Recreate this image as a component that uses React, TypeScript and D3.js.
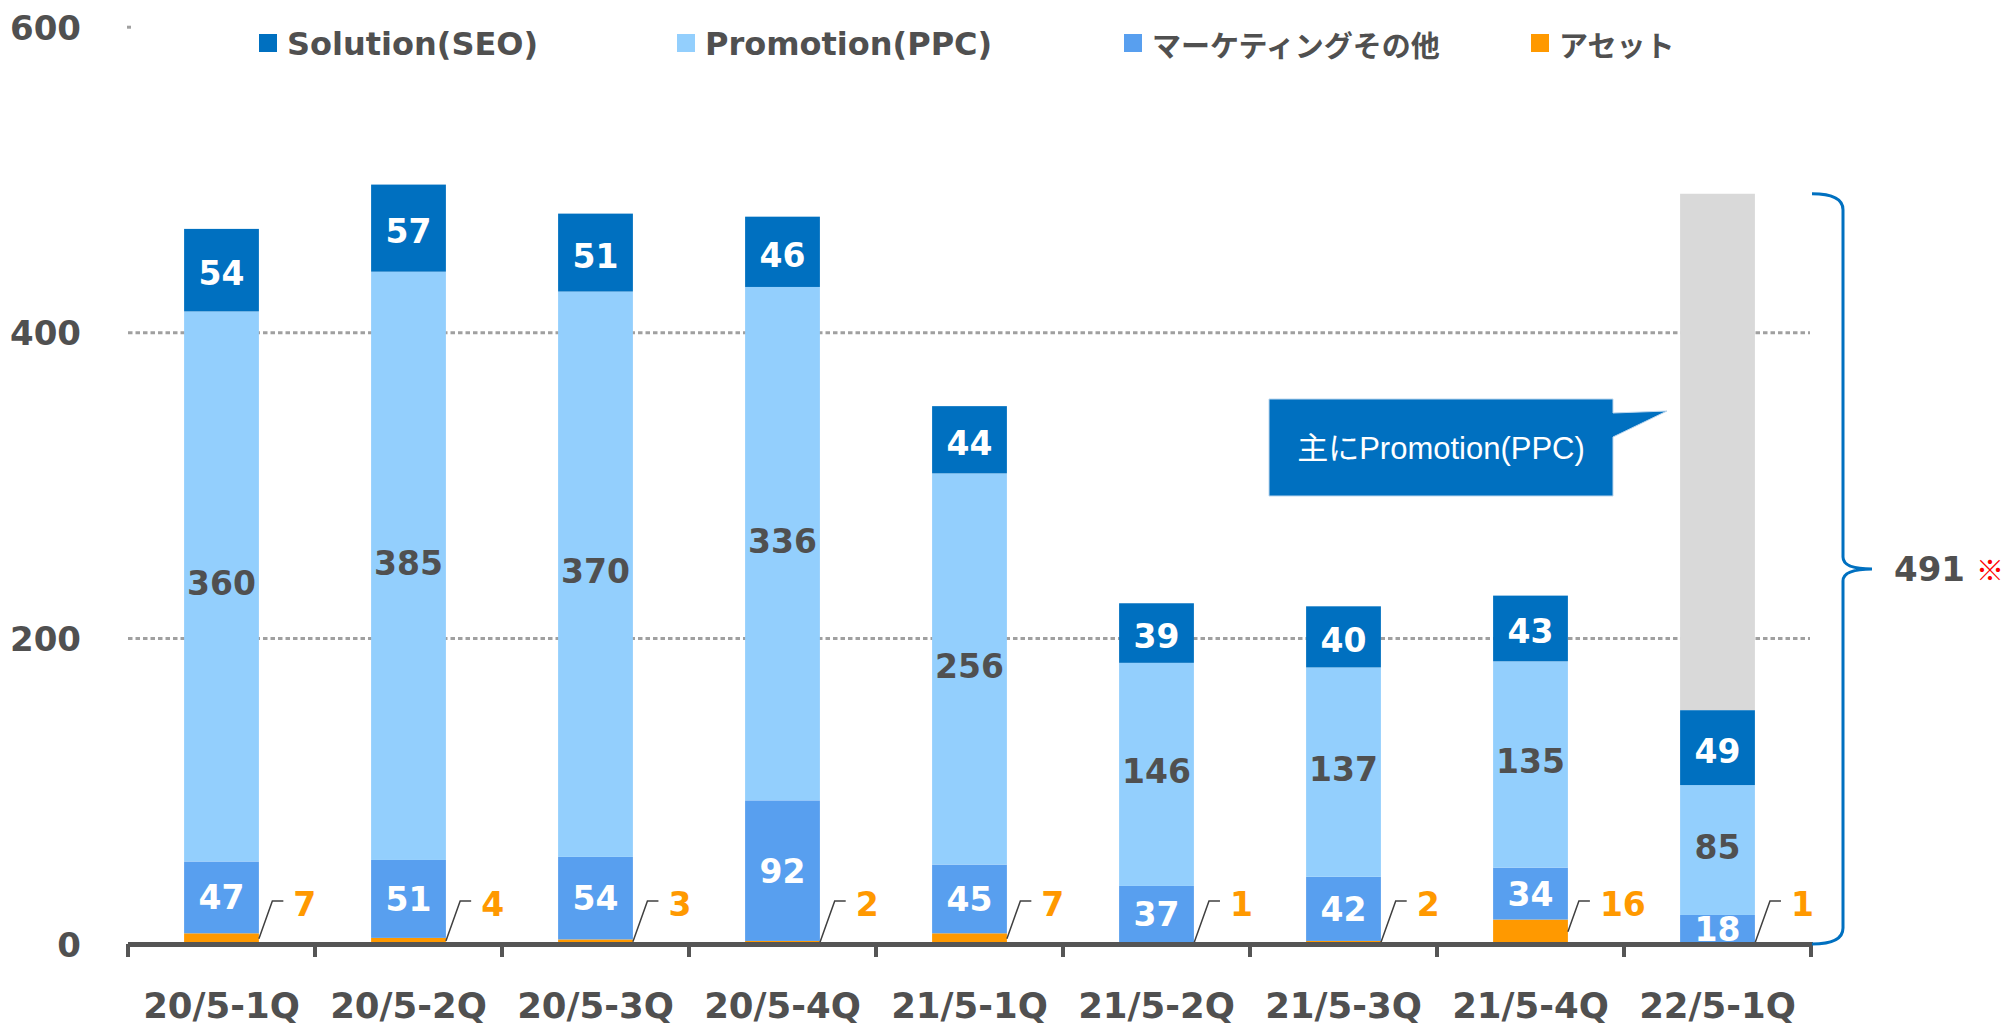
import React from 'react';
import * as d3 from 'd3';

const categories = ['20/5-1Q', '20/5-2Q', '20/5-3Q', '20/5-4Q', '21/5-1Q', '21/5-2Q', '21/5-3Q', '21/5-4Q', '22/5-1Q'];
const solution = [54, 57, 51, 46, 44, 39, 40, 43, 49];
const promotion = [360, 385, 370, 336, 256, 146, 137, 135, 85];
const marketing = [47, 51, 54, 92, 45, 37, 42, 34, 18];
const asset = [7, 4, 3, 2, 7, 1, 2, 16, 1];
const seriesNames = ['Solution(SEO)', 'Promotion(PPC)', 'マーケティングその他', 'アセット'];
const yTicks = [0, 200, 400, 600];
const forecastCategory = '22/5-1Q';
const forecastTotal = 491;
const forecastNote = '※';
const calloutText = '主にPromotion(PPC)';

const W = 2003;
const H = 1026;
const C_SEO = '#0070C0';
const C_PPC = '#93CFFD';
const C_MKT = '#589FEF';
const C_AST = '#FF9900';
const C_GRAY = '#D9D9D9';
const C_TEXT = '#505050';
const NUM_FONT = '"DejaVu Sans", Verdana, sans-serif';
const MIX_FONT = '"DejaVu Sans", "Noto Sans CJK JP", sans-serif';
const JP_FONT = '"Noto Sans CJK JP", sans-serif';

export default function App() {
  const x = d3.scaleBand<string>().domain(categories).range([128, 1811]).paddingInner(0.6).paddingOuter(0.3);
  const y = d3.scaleLinear().domain([0, 600]).range([944, 27.2]);
  const rows = categories.map((c, i) => ({ cat: c, asset: asset[i], marketing: marketing[i], promotion: promotion[i], solution: solution[i] }));
  const keys = ['asset', 'marketing', 'promotion', 'solution'];
  const stacked = d3.stack<any>().keys(keys)(rows);
  const colors: Record<string, string> = { asset: C_AST, marketing: C_MKT, promotion: C_PPC, solution: C_SEO };
  const bw = x.bandwidth();
  const step = x.step();
  const x0 = 128;

  const fIdx = categories.indexOf(forecastCategory);
  const fTop = solution[fIdx] + promotion[fIdx] + marketing[fIdx] + asset[fIdx];

  const legendColors = [C_SEO, C_PPC, C_MKT, C_AST];
  const legendX = [259, 677, 1124, 1531];
  const isJP = (s: string) => /[\u3040-\u30ff\u4e00-\u9fff]/.test(s);

  const braceTop = y(forecastTotal);
  const braceBot = y(0);
  const braceMid = (braceTop + braceBot) / 2;
  const bx0 = 1812;
  const bx1 = 1843;
  const bxt = 1872;
  const bracePath = `M${bx0},${braceTop} Q${bx1},${braceTop} ${bx1},${braceTop + 16} L${bx1},${braceMid - 12} Q${bx1},${braceMid} ${bxt},${braceMid} Q${bx1},${braceMid} ${bx1},${braceMid + 12} L${bx1},${braceBot - 16} Q${bx1},${braceBot} ${bx0},${braceBot}`;

  const assetLabelY = 904;
  const fs = 33;

  return (
    <svg width={W} height={H} style={{ position: 'absolute', left: 0, top: 0, display: 'block', background: '#fff' }}>
      {/* gridlines */}
      {yTicks.filter(t => t > 0 && t < 600).map(t => (
        <line key={t} x1={128} x2={1810} y1={y(t)} y2={y(t)} stroke="#A0A0A0" strokeWidth={3} strokeDasharray="4.5 3" />
      ))}
      <line x1={127} x2={131} y1={y(600)} y2={y(600)} stroke="#A0A0A0" strokeWidth={3} />
      {/* y labels */}
      {yTicks.map(t => (
        <text key={t} x={81} y={y(t) + 12.5} textAnchor="end" fontFamily={NUM_FONT} fontWeight="bold" fontSize={34} fill={C_TEXT}>{t}</text>
      ))}
      {/* forecast gray bar */}
      <rect x={x(forecastCategory)!} y={y(forecastTotal)} width={bw} height={y(fTop) - y(forecastTotal)} fill={C_GRAY} />
      {/* bars */}
      {stacked.map(s => (
        <g key={s.key}>
          {s.map((d, i) => (
            <rect key={i} x={x(categories[i])!} y={y(d[1])} width={bw} height={Math.max(0, y(d[0]) - y(d[1]))} fill={colors[s.key]} />
          ))}
        </g>
      ))}
      {/* in-bar labels */}
      {stacked.filter(s => s.key !== 'asset').map(s => (
        <g key={'l' + s.key}>
          {s.map((d, i) => (
            <text key={i} x={x(categories[i])! + bw / 2} y={y((d[0] + d[1]) / 2) + (s.key === 'solution' ? 15 : s.key === 'promotion' ? 9 : 12)} textAnchor="middle" fontFamily={NUM_FONT} fontWeight="bold" fontSize={fs} fill={s.key === 'promotion' ? C_TEXT : '#FFFFFF'}>
              {d[1] - d[0]}
            </text>
          ))}
        </g>
      ))}
      {/* asset labels with leader lines */}
      {stacked.filter(s => s.key === 'asset').map(s => (
        <g key="assetlabels">
          {s.map((d, i) => {
            const xr = x(categories[i])! + bw;
            const sy = y((d[0] + d[1]) / 2);
            const ky = assetLabelY - 3;
            const kx = xr + (sy - ky) / 2.8;
            return (
              <g key={i}>
                <path d={`M${xr},${sy} L${kx},${ky} L${kx + 11},${ky}`} fill="none" stroke="#404040" strokeWidth={1.5} />
                <text x={kx + 21} y={assetLabelY + 12} fontFamily={NUM_FONT} fontWeight="bold" fontSize={fs} fill={C_AST}>{d[1] - d[0]}</text>
              </g>
            );
          })}
        </g>
      ))}
      {/* x axis */}
      <line x1={128} x2={1813} y1={944.5} y2={944.5} stroke="#555555" strokeWidth={5} />
      {d3.range(categories.length + 1).map(i => (
        <line key={i} x1={x0 + i * step} x2={x0 + i * step} y1={944} y2={957} stroke="#555555" strokeWidth={4} />
      ))}
      {categories.map(c => (
        <text key={c} x={x(c)! + bw / 2} y={1018} textAnchor="middle" fontFamily={MIX_FONT} fontWeight="bold" fontSize={35.5} fill={C_TEXT}>{c}</text>
      ))}
      {/* legend */}
      {seriesNames.map((n, i) => (
        <g key={n}>
          <rect x={legendX[i]} y={34} width={18} height={18} fill={legendColors[i]} />
          <text x={legendX[i] + 28} y={44} dominantBaseline="central" fontFamily={isJP(n) ? JP_FONT : MIX_FONT} fontWeight="bold" fontSize={isJP(n) ? 29 : 32} fill={C_TEXT}>{n}</text>
        </g>
      ))}
      {/* callout */}
      <path d="M1269,399 L1613,399 L1613,413 L1667,411 L1613,437 L1613,496 L1269,496 Z" fill={C_SEO} stroke="#BDD7EE" strokeWidth={1} />
      <text x={1441} y={448} textAnchor="middle" dominantBaseline="central" fontFamily='"Liberation Sans", Arial, "Noto Sans CJK JP", sans-serif' fontSize={31} fill="#FFFFFF">{calloutText}</text>
      {/* brace */}
      <path d={bracePath} fill="none" stroke={C_SEO} strokeWidth={3} />
      <text x={1894} y={braceMid + 12.5} fontFamily={NUM_FONT} fontWeight="bold" fontSize={34} fill={C_TEXT}>{forecastTotal}</text>
      <text x={1976} y={braceMid} dominantBaseline="central" fontFamily={JP_FONT} fontWeight="bold" fontSize={28} fill="#FF0000">{forecastNote}</text>
    </svg>
  );
}
